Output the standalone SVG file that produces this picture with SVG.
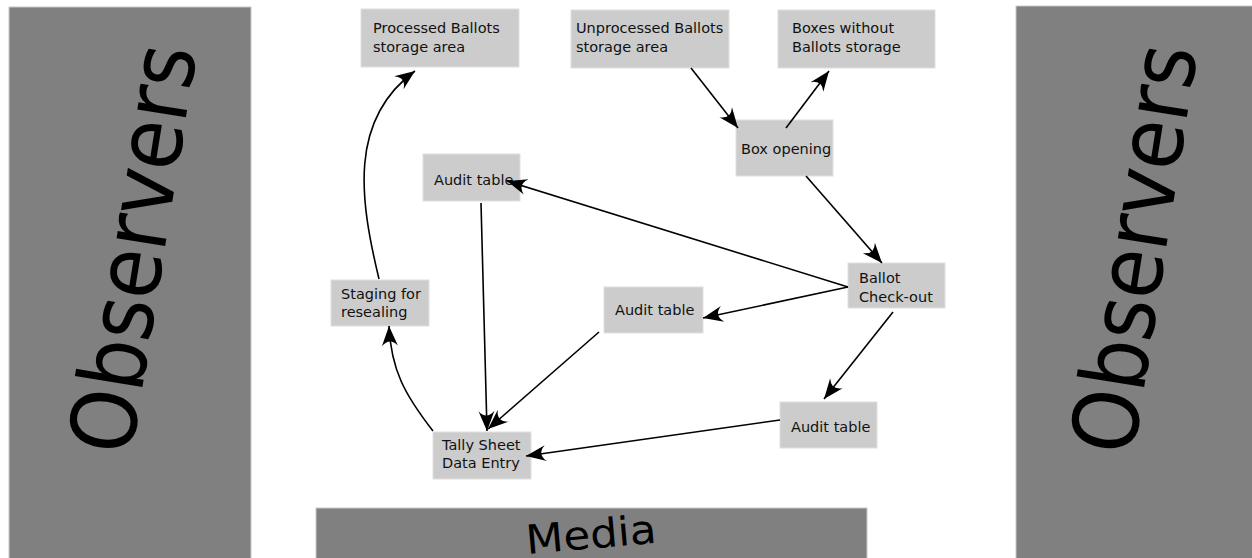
<svg xmlns="http://www.w3.org/2000/svg" width="1252" height="558" viewBox="0 0 1252 558">
<defs>
<style>
.band{fill:#808080;stroke:#c8c8c8;stroke-width:1}
.big{font-family:"DejaVu Sans","Liberation Sans",sans-serif;fill:#000}
.node rect{fill:#cccccc;stroke:#e0e0e0;stroke-width:1}
.node text{font-family:"DejaVu Sans","Liberation Sans",sans-serif;font-size:14.5px;fill:#111}
.edge{fill:none;stroke:#000;stroke-width:1.6;marker-end:url(#arr)}
</style>
<marker id="arr" markerUnits="userSpaceOnUse" markerWidth="26" markerHeight="22" viewBox="-22 -11 26 22" refX="0" refY="0" orient="auto">
<path d="M0,0 L-20,-8 Q-11,0 -20,8 Z" fill="#000"/>
</marker>
</defs>
<rect width="1252" height="558" fill="#fff"/>
<g id="observers-left">
<rect class="band" x="9" y="7" width="242" height="560"/>
<text class="big" font-size="90" transform="translate(131,457) rotate(-80.8)" textLength="412" lengthAdjust="spacingAndGlyphs">Observers</text>
</g>
<g id="observers-right">
<rect class="band" x="1016" y="6" width="250" height="560"/>
<text class="big" font-size="90" transform="translate(1133,457) rotate(-81)" textLength="412" lengthAdjust="spacingAndGlyphs">Observers</text>
</g>
<g id="media">
<rect class="band" x="316" y="508" width="551" height="60"/>
<text class="big" font-size="40" transform="translate(527,554) rotate(-5)" textLength="131" lengthAdjust="spacingAndGlyphs">Media</text>
</g>
<g id="processed" class="node">
<rect x="361" y="9" width="158" height="58"/>
<text x="373" y="33">Processed Ballots</text>
<text x="373" y="52">storage area</text>
</g>
<g id="unprocessed" class="node">
<rect x="571" y="10" width="158" height="58"/>
<text x="576" y="33">Unprocessed Ballots</text>
<text x="576" y="52">storage area</text>
</g>
<g id="boxes-without" class="node">
<rect x="778" y="10" width="157" height="58"/>
<text x="792" y="33">Boxes without</text>
<text x="792" y="52">Ballots storage</text>
</g>
<g id="box-opening" class="node">
<rect x="736" y="120" width="97" height="56"/>
<text x="741" y="154">Box opening</text>
</g>
<g id="audit1" class="node">
<rect x="423" y="154" width="97" height="47"/>
<text x="434" y="185">Audit table</text>
</g>
<g id="checkout" class="node">
<rect x="848" y="263" width="97" height="45"/>
<text x="859" y="283">Ballot</text>
<text x="859" y="302">Check-out</text>
</g>
<g id="staging" class="node">
<rect x="331" y="280" width="98" height="46"/>
<text x="341" y="299">Staging for</text>
<text x="341" y="317">resealing</text>
</g>
<g id="audit2" class="node">
<rect x="604" y="287" width="99" height="46"/>
<text x="615" y="315">Audit table</text>
</g>
<g id="audit3" class="node">
<rect x="780" y="402" width="97" height="46"/>
<text x="791" y="432">Audit table</text>
</g>
<g id="tally" class="node">
<rect x="433" y="432" width="98" height="47"/>
<text x="442" y="450">Tally Sheet</text>
<text x="442" y="468">Data Entry</text>
</g>
<g id="connectors">
<path class="edge" d="M691,68 L738,128"/>
<path class="edge" d="M786,128 L829,71"/>
<path class="edge" d="M806,176 L882,263"/>
<path class="edge" d="M848,287 L507,181"/>
<path class="edge" d="M848,287 L703,318"/>
<path class="edge" d="M893,312 L824,399"/>
<path class="edge" d="M481,203 L487,431"/>
<path class="edge" d="M599,332 L488,429"/>
<path class="edge" d="M780,420 L526,456"/>
<path class="edge" d="M433,431 C405,395 391,370 389,326"/>
<path class="edge" d="M379,279 C360,200 348,120 415,71"/>
</g>
</svg>
